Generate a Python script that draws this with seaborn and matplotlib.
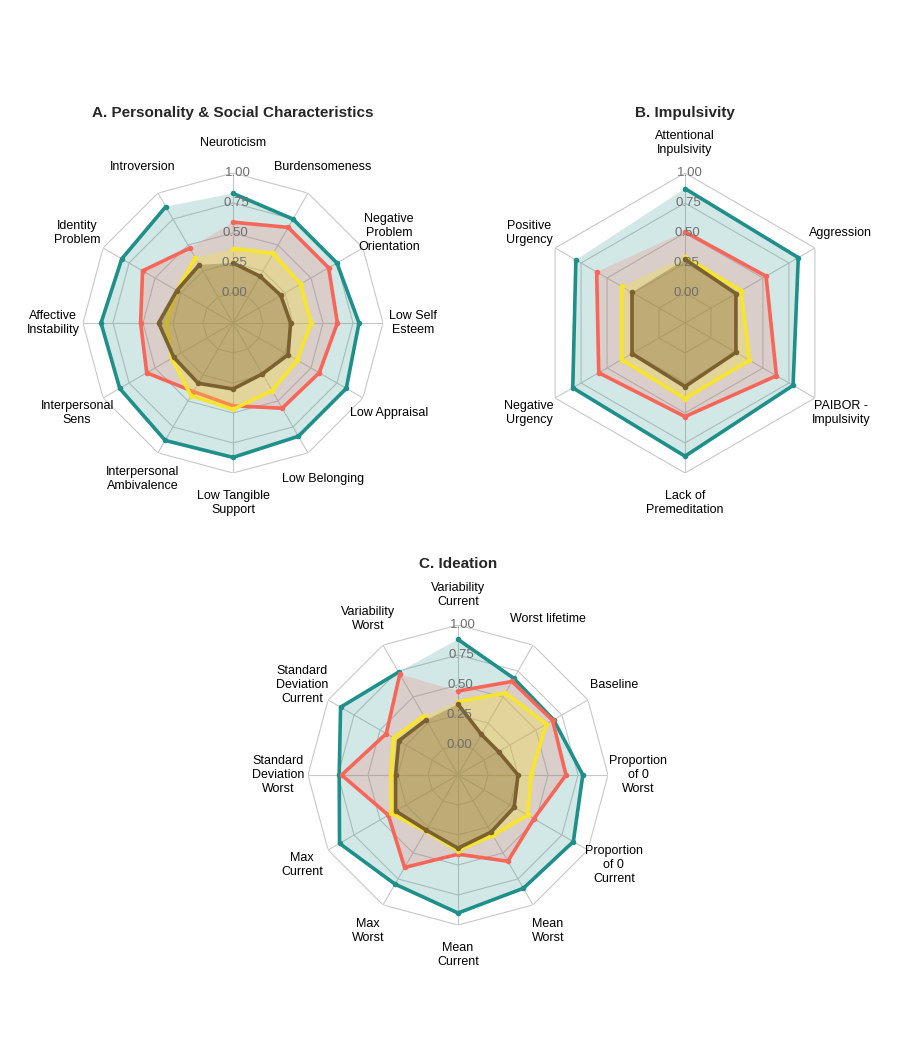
import numpy as np
import pandas as pd
import matplotlib
matplotlib.use("Agg")
import matplotlib.pyplot as plt
import seaborn as sns

sns.set_theme(style="white")
plt.rcParams['font.family'] = ['Liberation Sans', 'DejaVu Sans']

groups = ["G1", "G2", "G3", "G4"]
colors = ["#1f8f89", "#f8665a", "#f7e52c", "#7b6030"]
fill_alpha = [0.2, 0.2, 0.3, 0.35]

a_labels = ["Neuroticism", "Burdensomeness", "Negative\nProblem\nOrientation", "Low Self\nEsteem",
            "Low Appraisal", "Low Belonging", "Low Tangible\nSupport", "Interpersonal\nAmbivalence",
            "Interpersonal\nSens", "Affective\nInstability", "Identity\nProblem", "Introversion"]
a_g1 = [0.83, 0.75, 0.75, 0.80, 0.84, 0.84, 0.87, 0.88, 0.84, 0.85, 0.82, 0.87]
a_g2 = [0.59, 0.67, 0.67, 0.62, 0.58, 0.57, 0.44, 0.41, 0.58, 0.52, 0.62, 0.47]
a_g3 = [0.37, 0.42, 0.40, 0.40, 0.37, 0.40, 0.47, 0.45, 0.34, 0.31, 0.29, 0.38]
a_g4 = [0.25, 0.20, 0.21, 0.23, 0.28, 0.24, 0.30, 0.33, 0.32, 0.37, 0.29, 0.31]

b_labels = ["Attentional\nInpulsivity", "Aggression", "PAIBOR -\nImpulsivity",
            "Lack of\nPremeditation", "Negative\nUrgency", "Positive\nUrgency"]
b_g1 = [0.87, 0.84, 0.79, 0.86, 0.83, 0.80]
b_g2 = [0.51, 0.53, 0.63, 0.53, 0.58, 0.60]
b_g3 = [0.30, 0.29, 0.37, 0.38, 0.36, 0.36]
b_g4 = [0.28, 0.24, 0.24, 0.28, 0.26, 0.26]

c_labels = ["Variability\nCurrent", "Worst lifetime", "Baseline", "Proportion\nof 0\nWorst",
            "Proportion\nof 0\nCurrent", "Mean\nWorst", "Mean\nCurrent", "Max\nWorst",
            "Max\nCurrent", "Standard\nDeviation\nWorst", "Standard\nDeviation\nCurrent", "Variability\nWorst"]
c_g1 = [0.88, 0.68, 0.67, 0.79, 0.86, 0.84, 0.90, 0.80, 0.89, 0.74, 0.88, 0.74]
c_g2 = [0.45, 0.65, 0.66, 0.65, 0.48, 0.58, 0.41, 0.64, 0.42, 0.72, 0.44, 0.72]
c_g3 = [0.36, 0.54, 0.60, 0.36, 0.42, 0.33, 0.38, 0.29, 0.39, 0.31, 0.37, 0.32]
c_g4 = [0.34, 0.14, 0.14, 0.25, 0.29, 0.30, 0.36, 0.28, 0.35, 0.27, 0.32, 0.28]

ticks = [0.0, 0.25, 0.5, 0.75, 1.0]
tick_labels = ["0.00", "0.25", "0.50", "0.75", "1.00"]

W, H = 903, 1057
fig = plt.figure(figsize=(W / 100, H / 100), dpi=100)


def radar(cx, cy, title, labels, series):
    R = 150
    ax = fig.add_axes([(cx - R) / W, 1 - (cy + R) / H, 2 * R / W, 2 * R / H], projection="polar")
    ax.set_theta_zero_location("N")
    ax.set_theta_direction(-1)
    ax.set_ylim(-0.25, 1.0)
    ax.axis("off")
    n = len(labels)
    th = np.linspace(0, 2 * np.pi, n, endpoint=False)
    thc = np.append(th, th[0])
    for t in ticks:
        ax.plot(thc, [t] * (n + 1), color="#c8c8c8", lw=0.8, zorder=1)
    for a in th:
        ax.plot([a, a], [-0.25, 1.0], color="#c8c8c8", lw=0.8, zorder=1)
    for i, vals in enumerate(series):
        v = np.append(vals, vals[0])
        ax.fill(thc, v, color=colors[i], alpha=fill_alpha[i], lw=0, zorder=2 + i)
        df = pd.DataFrame({"theta": thc, "r": v})
        sns.lineplot(data=df, x="theta", y="r", sort=False, ax=ax, color=colors[i],
                     lw=2.6, marker="o", markersize=4, markeredgewidth=0, zorder=3 + i)
    for t, tl in zip(ticks, tick_labels):
        ax.text(0.03, t, tl, color="#6e6e6e", fontsize=9.5, ha="center", va="center", zorder=20)
    for a, lab in zip(th, labels):
        ax.text(a, 1.25, lab, fontsize=9, ha="center", va="center", color="black")
    ax.set_xlabel("")
    ax.set_ylabel("")
    fig.text(cx / W, 1 - 113 / H if cy < 500 else 1 - 564 / H, title, fontsize=11,
             fontweight="bold", ha="center", va="center")


radar(233, 323, "A. Personality & Social Characteristics", a_labels, [a_g1, a_g2, a_g3, a_g4])
radar(685, 323, "B. Impulsivity", b_labels, [b_g1, b_g2, b_g3, b_g4])
radar(458, 775, "C. Ideation", c_labels, [c_g1, c_g2, c_g3, c_g4])

fig.savefig("out.png", dpi=100, facecolor="white")
